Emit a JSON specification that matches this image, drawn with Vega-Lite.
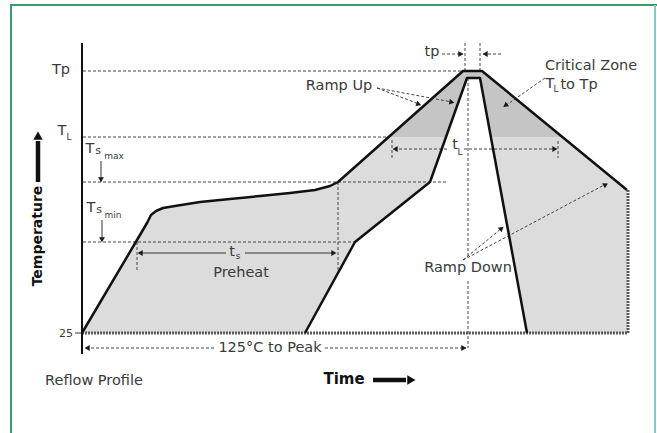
{
  "$schema": "https://vega.github.io/schema/vega-lite/v6.json",
  "width": 657,
  "height": 433,
  "autosize": {"type": "none"},
  "padding": 0,
  "background": "white",
  "config": {"view": {"stroke": null}},
  "datasets": {
    "fills": [
      {"id": "L", "tone": "light", "i": 1, "x": 82, "y": 333},
      {"id": "L", "tone": "light", "i": 2, "x": 137, "y": 240},
      {"id": "L", "tone": "light", "i": 3, "x": 147, "y": 223},
      {"id": "L", "tone": "light", "i": 4, "x": 151, "y": 215},
      {"id": "L", "tone": "light", "i": 5, "x": 156, "y": 211},
      {"id": "L", "tone": "light", "i": 6, "x": 163, "y": 208},
      {"id": "L", "tone": "light", "i": 7, "x": 175, "y": 206},
      {"id": "L", "tone": "light", "i": 8, "x": 200, "y": 202},
      {"id": "L", "tone": "light", "i": 9, "x": 230, "y": 199},
      {"id": "L", "tone": "light", "i": 10, "x": 260, "y": 196},
      {"id": "L", "tone": "light", "i": 11, "x": 290, "y": 193},
      {"id": "L", "tone": "light", "i": 12, "x": 315, "y": 190},
      {"id": "L", "tone": "light", "i": 13, "x": 330, "y": 186},
      {"id": "L", "tone": "light", "i": 14, "x": 338, "y": 182},
      {"id": "L", "tone": "light", "i": 15, "x": 463, "y": 71},
      {"id": "L", "tone": "light", "i": 16, "x": 467, "y": 78},
      {"id": "L", "tone": "light", "i": 17, "x": 430, "y": 182},
      {"id": "L", "tone": "light", "i": 18, "x": 355, "y": 242},
      {"id": "L", "tone": "light", "i": 19, "x": 305, "y": 333},
      {"id": "R", "tone": "light", "i": 1, "x": 482, "y": 71},
      {"id": "R", "tone": "light", "i": 2, "x": 627, "y": 190},
      {"id": "R", "tone": "light", "i": 3, "x": 628, "y": 333},
      {"id": "R", "tone": "light", "i": 4, "x": 527, "y": 333},
      {"id": "R", "tone": "light", "i": 5, "x": 480, "y": 78},
      {"id": "DL", "tone": "dark", "i": 1, "x": 389, "y": 137},
      {"id": "DL", "tone": "dark", "i": 2, "x": 463, "y": 71},
      {"id": "DL", "tone": "dark", "i": 3, "x": 467, "y": 78},
      {"id": "DL", "tone": "dark", "i": 4, "x": 446, "y": 137},
      {"id": "DC", "tone": "dark", "i": 1, "x": 463, "y": 71},
      {"id": "DC", "tone": "dark", "i": 2, "x": 482, "y": 71},
      {"id": "DC", "tone": "dark", "i": 3, "x": 480, "y": 78},
      {"id": "DC", "tone": "dark", "i": 4, "x": 467, "y": 78},
      {"id": "DR", "tone": "dark", "i": 1, "x": 482, "y": 71},
      {"id": "DR", "tone": "dark", "i": 2, "x": 562, "y": 137},
      {"id": "DR", "tone": "dark", "i": 3, "x": 491, "y": 137},
      {"id": "DR", "tone": "dark", "i": 4, "x": 480, "y": 78}
    ],
    "profiles": [
      {"id": "outer", "i": 1, "x": 82, "y": 333},
      {"id": "outer", "i": 2, "x": 137, "y": 240},
      {"id": "outer", "i": 3, "x": 147, "y": 223},
      {"id": "outer", "i": 4, "x": 151, "y": 215},
      {"id": "outer", "i": 5, "x": 156, "y": 211},
      {"id": "outer", "i": 6, "x": 163, "y": 208},
      {"id": "outer", "i": 7, "x": 175, "y": 206},
      {"id": "outer", "i": 8, "x": 200, "y": 202},
      {"id": "outer", "i": 9, "x": 230, "y": 199},
      {"id": "outer", "i": 10, "x": 260, "y": 196},
      {"id": "outer", "i": 11, "x": 290, "y": 193},
      {"id": "outer", "i": 12, "x": 315, "y": 190},
      {"id": "outer", "i": 13, "x": 330, "y": 186},
      {"id": "outer", "i": 14, "x": 338, "y": 182},
      {"id": "outer", "i": 15, "x": 463, "y": 71},
      {"id": "outer", "i": 16, "x": 482, "y": 71},
      {"id": "outer", "i": 17, "x": 627, "y": 190},
      {"id": "inner", "i": 1, "x": 305, "y": 333},
      {"id": "inner", "i": 2, "x": 355, "y": 242},
      {"id": "inner", "i": 3, "x": 430, "y": 182},
      {"id": "inner", "i": 4, "x": 467, "y": 78},
      {"id": "inner", "i": 5, "x": 480, "y": 78},
      {"id": "inner", "i": 6, "x": 527, "y": 333}
    ],
    "segs": [
      {"k": "frameA", "x": 10, "y": 5, "x2": 657, "y2": 5},
      {"k": "frameA", "x": 11, "y": 5, "x2": 11, "y2": 433},
      {"k": "frameB", "x": 655, "y": 5, "x2": 655, "y2": 433},
      {"k": "dash", "x": 83, "y": 71, "x2": 463, "y2": 71},
      {"k": "dash", "x": 83, "y": 137, "x2": 389, "y2": 137},
      {"k": "dash", "x": 83, "y": 182, "x2": 447, "y2": 182},
      {"k": "dash", "x": 83, "y": 242, "x2": 358, "y2": 242},
      {"k": "dash", "x": 465, "y": 43, "x2": 465, "y2": 71},
      {"k": "dash", "x": 480, "y": 43, "x2": 480, "y2": 71},
      {"k": "dash", "x": 468, "y": 78, "x2": 468, "y2": 258},
      {"k": "dash", "x": 468, "y": 281, "x2": 468, "y2": 348},
      {"k": "dash", "x": 338, "y": 182, "x2": 338, "y2": 270},
      {"k": "dash", "x": 137, "y": 242, "x2": 137, "y2": 270},
      {"k": "dash", "x": 392, "y": 140, "x2": 392, "y2": 158},
      {"k": "dash", "x": 558, "y": 141, "x2": 558, "y2": 158},
      {"k": "dash", "x": 394, "y": 149, "x2": 449, "y2": 149},
      {"k": "dash", "x": 464, "y": 149, "x2": 556, "y2": 149},
      {"k": "dash", "x": 86, "y": 348, "x2": 216, "y2": 348},
      {"k": "dash", "x": 325, "y": 348, "x2": 466, "y2": 348},
      {"k": "dash", "x": 442, "y": 54, "x2": 463, "y2": 54},
      {"k": "dash", "x": 483, "y": 54, "x2": 503, "y2": 54},
      {"k": "dash", "x": 377, "y": 88, "x2": 419, "y2": 104},
      {"k": "dash", "x": 377, "y": 88, "x2": 452, "y2": 102},
      {"k": "dash", "x": 545, "y": 78, "x2": 505, "y2": 106},
      {"k": "dash", "x": 463, "y": 260, "x2": 502, "y2": 228},
      {"k": "dash", "x": 463, "y": 260, "x2": 606, "y2": 184},
      {"k": "thin", "x": 101, "y": 161, "x2": 101, "y2": 178},
      {"k": "thin", "x": 102, "y": 220, "x2": 102, "y2": 238},
      {"k": "thin", "x": 139, "y": 253, "x2": 226, "y2": 253},
      {"k": "thin", "x": 245, "y": 253, "x2": 335, "y2": 253},
      {"k": "thin", "x": 75, "y": 333, "x2": 82, "y2": 333},
      {"k": "base", "x": 82, "y": 333, "x2": 628, "y2": 333},
      {"k": "base", "x": 628, "y": 190, "x2": 628, "y2": 333},
      {"k": "axis", "x": 82, "y": 43, "x2": 82, "y2": 354},
      {"k": "big", "x": 38, "y": 182, "x2": 38, "y2": 141},
      {"k": "big", "x": 373, "y": 380, "x2": 406, "y2": 380}
    ],
    "heads": [
      {"k": "small", "x": 101, "y": 179, "ang": 180},
      {"k": "small", "x": 102, "y": 239, "ang": 180},
      {"k": "small", "x": 141, "y": 253, "ang": 270},
      {"k": "small", "x": 333, "y": 253, "ang": 90},
      {"k": "small", "x": 396, "y": 149, "ang": 270},
      {"k": "small", "x": 554, "y": 149, "ang": 90},
      {"k": "small", "x": 88, "y": 348, "ang": 270},
      {"k": "small", "x": 463, "y": 348, "ang": 90},
      {"k": "small", "x": 460, "y": 54, "ang": 90},
      {"k": "small", "x": 486, "y": 54, "ang": 270},
      {"k": "small", "x": 418, "y": 104, "ang": 111},
      {"k": "small", "x": 451, "y": 102, "ang": 101},
      {"k": "small", "x": 506, "y": 105, "ang": 234},
      {"k": "small", "x": 501, "y": 229, "ang": 50},
      {"k": "small", "x": 605, "y": 185, "ang": 62},
      {"k": "big", "x": 38, "y": 137, "ang": 0},
      {"k": "big", "x": 410, "y": 380, "ang": 90}
    ],
    "labels": [
      {"r": "label", "txt": "Tp", "x": 61, "y": 70},
      {"r": "label", "txt": "T", "x": 62, "y": 131},
      {"r": "sm", "txt": "L", "x": 69, "y": 137},
      {"r": "label", "txt": "T", "x": 90, "y": 149},
      {"r": "md", "txt": "s", "x": 98, "y": 151},
      {"r": "sm", "txt": "max", "x": 114, "y": 156},
      {"r": "label", "txt": "T", "x": 91, "y": 208},
      {"r": "md", "txt": "s", "x": 99, "y": 210},
      {"r": "sm", "txt": "min", "x": 113, "y": 215},
      {"r": "md", "txt": "25", "x": 66, "y": 334},
      {"r": "label", "txt": "tp", "x": 432, "y": 52},
      {"r": "label", "txt": "t", "x": 455, "y": 145},
      {"r": "sm", "txt": "L", "x": 460, "y": 152},
      {"r": "label", "txt": "t", "x": 232, "y": 252},
      {"r": "sm", "txt": "s", "x": 238, "y": 256},
      {"r": "label", "txt": "Preheat", "x": 241, "y": 273},
      {"r": "label", "txt": "125°C to Peak", "x": 270, "y": 348},
      {"r": "label", "txt": "Ramp Up", "x": 339, "y": 86},
      {"r": "label", "txt": "Critical Zone", "x": 591, "y": 66},
      {"r": "label", "txt": "T", "x": 550, "y": 84},
      {"r": "sm", "txt": "L", "x": 556, "y": 89},
      {"r": "label", "txt": "to Tp", "x": 579, "y": 85},
      {"r": "label", "txt": "Ramp Down", "x": 468, "y": 268},
      {"r": "label", "txt": "Reflow Profile", "x": 94, "y": 381},
      {"r": "bold", "txt": "Time", "x": 344, "y": 379},
      {"r": "vbold", "txt": "Temperature", "x": 38, "y": 236}
    ]
  },
  "encoding": {
    "x": {"field": "x", "type": "quantitative", "scale": {"domain": [0, 657], "nice": false, "zero": false}, "axis": null},
    "y": {"field": "y", "type": "quantitative", "scale": {"domain": [0, 433], "nice": false, "zero": false, "reverse": true}, "axis": null}
  },
  "layer": [
    {
      "data": {"name": "fills"},
      "transform": [{"filter": "datum.tone == 'light'"}],
      "mark": {"type": "line", "fill": "#dcdcdc", "strokeOpacity": 0},
      "encoding": {"detail": {"field": "id"}, "order": {"field": "i", "type": "quantitative"}}
    },
    {
      "data": {"name": "fills"},
      "transform": [{"filter": "datum.tone == 'dark'"}],
      "mark": {"type": "line", "fill": "#c5c5c5", "strokeOpacity": 0},
      "encoding": {"detail": {"field": "id"}, "order": {"field": "i", "type": "quantitative"}}
    },
    {
      "data": {"name": "segs"},
      "transform": [{"filter": "datum.k == 'frameA'"}],
      "mark": {"type": "rule", "color": "#3a9c6e", "strokeWidth": 2},
      "encoding": {"x2": {"field": "x2"}, "y2": {"field": "y2"}}
    },
    {
      "data": {"name": "segs"},
      "transform": [{"filter": "datum.k == 'frameB'"}],
      "mark": {"type": "rule", "color": "#7fcfbf", "strokeWidth": 2},
      "encoding": {"x2": {"field": "x2"}, "y2": {"field": "y2"}}
    },
    {
      "data": {"name": "segs"},
      "transform": [{"filter": "datum.k == 'base'"}],
      "mark": {"type": "rule", "color": "#5a5a5a", "strokeWidth": 3, "strokeDash": [2, 1]},
      "encoding": {"x2": {"field": "x2"}, "y2": {"field": "y2"}}
    },
    {
      "data": {"name": "segs"},
      "transform": [{"filter": "datum.k == 'dash'"}],
      "mark": {"type": "rule", "color": "#444", "strokeWidth": 1, "strokeDash": [3, 2]},
      "encoding": {"x2": {"field": "x2"}, "y2": {"field": "y2"}}
    },
    {
      "data": {"name": "segs"},
      "transform": [{"filter": "datum.k == 'thin'"}],
      "mark": {"type": "rule", "color": "#333", "strokeWidth": 1},
      "encoding": {"x2": {"field": "x2"}, "y2": {"field": "y2"}}
    },
    {
      "data": {"name": "profiles"},
      "mark": {"type": "line", "color": "#111", "strokeWidth": 2.5, "strokeJoin": "round"},
      "encoding": {"detail": {"field": "id"}, "order": {"field": "i", "type": "quantitative"}}
    },
    {
      "data": {"name": "segs"},
      "transform": [{"filter": "datum.k == 'axis'"}],
      "mark": {"type": "rule", "color": "#111", "strokeWidth": 2},
      "encoding": {"x2": {"field": "x2"}, "y2": {"field": "y2"}}
    },
    {
      "data": {"name": "segs"},
      "transform": [{"filter": "datum.k == 'big'"}],
      "mark": {"type": "rule", "color": "#111", "strokeWidth": 4.5},
      "encoding": {"x2": {"field": "x2"}, "y2": {"field": "y2"}}
    },
    {
      "data": {"name": "heads"},
      "transform": [{"filter": "datum.k == 'small'"}],
      "mark": {"type": "point", "shape": "triangle", "filled": true, "color": "#1a1a1a", "size": 34, "opacity": 1, "strokeWidth": 0},
      "encoding": {"angle": {"field": "ang", "type": "quantitative", "scale": null}}
    },
    {
      "data": {"name": "heads"},
      "transform": [{"filter": "datum.k == 'big'"}],
      "mark": {"type": "point", "shape": "triangle", "filled": true, "color": "#111", "size": 90, "opacity": 1, "strokeWidth": 0},
      "encoding": {"angle": {"field": "ang", "type": "quantitative", "scale": null}}
    },
    {
      "data": {"name": "labels"},
      "transform": [{"filter": "datum.r == 'label'"}],
      "mark": {"type": "text", "font": "DejaVu Sans", "fontSize": 14.5, "color": "#3a3a3a", "align": "center", "baseline": "middle"},
      "encoding": {"text": {"field": "txt"}}
    },
    {
      "data": {"name": "labels"},
      "transform": [{"filter": "datum.r == 'md'"}],
      "mark": {"type": "text", "font": "DejaVu Sans", "fontSize": 11, "color": "#3a3a3a", "align": "center", "baseline": "middle"},
      "encoding": {"text": {"field": "txt"}}
    },
    {
      "data": {"name": "labels"},
      "transform": [{"filter": "datum.r == 'sm'"}],
      "mark": {"type": "text", "font": "DejaVu Sans", "fontSize": 9, "color": "#3a3a3a", "align": "center", "baseline": "middle"},
      "encoding": {"text": {"field": "txt"}}
    },
    {
      "data": {"name": "labels"},
      "transform": [{"filter": "datum.r == 'bold'"}],
      "mark": {"type": "text", "font": "DejaVu Sans", "fontSize": 15, "fontWeight": "bold", "color": "#111", "align": "center", "baseline": "middle"},
      "encoding": {"text": {"field": "txt"}}
    },
    {
      "data": {"name": "labels"},
      "transform": [{"filter": "datum.r == 'vbold'"}],
      "mark": {"type": "text", "font": "DejaVu Sans", "fontSize": 14, "fontWeight": "bold", "color": "#111", "align": "center", "baseline": "middle", "angle": 270},
      "encoding": {"text": {"field": "txt"}}
    }
  ]
}
